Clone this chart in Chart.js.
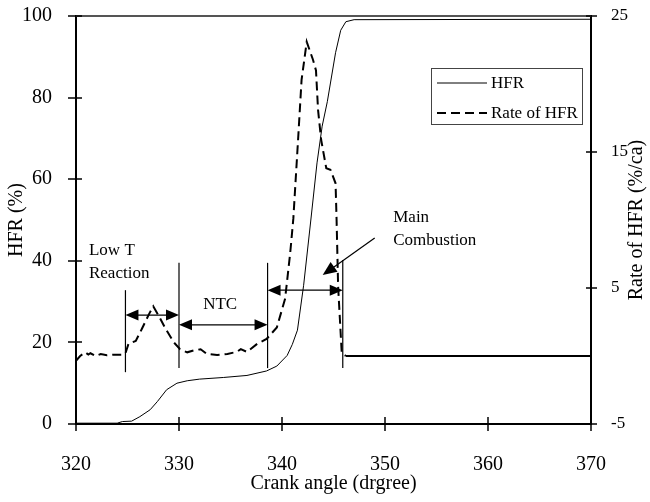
<!DOCTYPE html>
<html><head><meta charset="utf-8">
<script src="https://cdn.jsdelivr.net/npm/chart.js@4/dist/chart.umd.min.js"></script>
<style>html,body{margin:0;padding:0;background:#fff}#wrap{width:650px;height:502px}</style>
</head><body><div id="wrap"><canvas id="c" width="650" height="502"></canvas></div>
<script>
// ---- data ----
const hfrAngle = [320,324,324.5,325.4,326.2,327.2,327.9,328.8,329.8,330.8,332,334.3,336.6,338.5,339.5,340.5,341.0,341.5,342.1,342.8,343.4,343.9,344.4,345.2,345.7,346.2,347.0,370];
const hfrValue = [0.2,0.2,0.6,0.7,1.8,3.5,5.5,8.4,10.0,10.6,11.0,11.4,11.9,13.0,14.2,16.8,19.5,23,34,50,64,73,79,91,96.5,98.6,99.1,99.2];
const rateAngle = [320,320.4,320.9,321.2,321.4,321.9,322.4,323.0,323.7,324.4,324.8,325.1,325.8,326.4,327.1,327.5,328.0,328.7,329.5,330.1,330.8,331.4,332.1,332.7,333.7,334.7,335.6,336.0,336.6,337.6,338.5,339.5,340.3,340.8,341.1,341.6,341.9,342.4,343.0,343.3,343.5,343.8,344.3,344.7,345.2,345.3,345.45,345.8,346.2,370];
const rateValue = [-0.35,0,0.27,0.1,0.2,0,0.15,0.05,0.1,0.1,0.2,0.9,1.1,2.0,3.1,3.65,3.0,2.0,1.0,0.5,0.27,0.4,0.5,0.15,0.07,0.15,0.3,0.5,0.3,0.9,1.25,2.1,4.2,7.6,10.1,16.4,20.3,23.1,21.8,21.0,18.1,15.9,13.8,13.7,12.7,10.0,5.1,0.2,0,0];
const xTickValues = [320,330,340,350,360,370];
const leftTickValues = [0,20,40,60,80,100];
const rightTickValues = [-5,5,15,25];
const seriesLabels = ['HFR','Rate of HFR'];
const axisTitles = {x:'Crank angle (drgree)', y:'HFR (%)', y1:'Rate of HFR (%/ca)'};

// annotation content (in data units of x / left axis)
const markers = [[324.8,12.7,32.8],[330.0,13.7,39.5],[338.6,13.7,39.5],[345.9,13.7,40.2]];
const spans = [[324.8,330.0,26.7],[330.0,338.6,24.3],[338.6,345.9,32.8]];
const notes = [
  {t:'Low T', x:321.26, y:41.4, align:'left'},
  {t:'Reaction', x:321.26, y:35.8, align:'left'},
  {t:'NTC', x:334.0, y:28.2, align:'center'},
  {t:'Main', x:350.8, y:49.5, align:'left'},
  {t:'Combustion', x:350.8, y:43.9, align:'left'}
];
const pointer = [349.0,45.6,343.95,36.5];

const FONT = 'Liberation Serif';
const pts = (xs, ys) => xs.map((v,i)=>({x:v, y:ys[i]}));

function head(ctx, x1,y1,x2,y2, len, hw){
  const a = Math.atan2(y2-y1, x2-x1);
  ctx.beginPath();
  ctx.moveTo(x2,y2);
  ctx.lineTo(x2 - len*Math.cos(a) + hw*Math.sin(a), y2 - len*Math.sin(a) - hw*Math.cos(a));
  ctx.lineTo(x2 - len*Math.cos(a) - hw*Math.sin(a), y2 - len*Math.sin(a) + hw*Math.cos(a));
  ctx.closePath(); ctx.fill();
}

const deco = {
  id:'deco',
  afterDatasetsDraw(chart){
    const {ctx, chartArea:a, scales:{x,y,y1}} = chart;
    const L = (x0,y0,xa,ya)=>{ctx.beginPath();ctx.moveTo(x0,y0);ctx.lineTo(xa,ya);ctx.stroke();};
    ctx.save();
    // top frame
    ctx.strokeStyle='#555'; ctx.lineWidth=2;
    L(a.left, a.top, a.right, a.top);
    // tick marks (crossing)
    ctx.strokeStyle='#000'; ctx.lineWidth=1.5;
    x.ticks.forEach(t=>{const p=Math.round(x.getPixelForValue(t.value)); L(p,a.bottom-7,p,a.bottom+7);});
    y.ticks.forEach(t=>{const p=Math.round(y.getPixelForValue(t.value)); L(a.left-8,p,a.left+6,p);});
    y1.ticks.forEach(t=>{const p=Math.round(y1.getPixelForValue(t.value)); L(a.right-5,p,a.right+6,p);});
    // vertical markers
    ctx.lineWidth=1.2;
    markers.forEach(m=>{const px=x.getPixelForValue(m[0]); L(px,y.getPixelForValue(m[1]),px,y.getPixelForValue(m[2]));});
    // double arrows
    ctx.fillStyle='#000';
    spans.forEach(s=>{
      const xa=x.getPixelForValue(s[0]), xb=x.getPixelForValue(s[1]), py=y.getPixelForValue(s[2]);
      L(xa+4,py,xb-4,py);
      head(ctx,xb,py,xa,py,13,5.5);
      head(ctx,xa,py,xb,py,13,5.5);
    });
    // pointer arrow
    const p0x=x.getPixelForValue(pointer[0]), p0y=y.getPixelForValue(pointer[1]);
    const p1x=x.getPixelForValue(pointer[2]), p1y=y.getPixelForValue(pointer[3]);
    L(p0x,p0y,p1x+(p0x-p1x)*0.15,p1y+(p0y-p1y)*0.15);
    head(ctx,p0x,p0y,p1x,p1y,14,6);
    // notes
    ctx.font = '17px "'+FONT+'"'; ctx.textBaseline='alphabetic';
    notes.forEach(n=>{ctx.textAlign=n.align; ctx.fillText(n.t, x.getPixelForValue(n.x), y.getPixelForValue(n.y));});
    // legend
    const bx=a.right-160, by=a.top+52, bw=151, bh=56;
    ctx.fillStyle='#fff'; ctx.fillRect(bx,by,bw,bh);
    ctx.strokeStyle='#444'; ctx.lineWidth=1; ctx.strokeRect(bx+0.5,by+0.5,bw,bh);
    chart.data.datasets.forEach((d,i)=>{
      const ly = by + 15 + i*30;
      ctx.strokeStyle=d.borderColor; ctx.lineWidth=d.borderWidth; ctx.setLineDash(d.borderDash||[]);
      L(bx+6,ly,bx+56,ly);
      ctx.setLineDash([]);
      ctx.fillStyle='#000'; ctx.textAlign='left'; ctx.textBaseline='middle';
      ctx.fillText(d.label, bx+60, ly+1);
    });
    // right axis title, reading bottom-to-top
    ctx.save();
    ctx.translate(y1.right-13, (a.top+a.bottom)/2);
    ctx.rotate(-Math.PI/2);
    ctx.font='20px "'+FONT+'"'; ctx.textAlign='center'; ctx.textBaseline='middle'; ctx.fillStyle='#000';
    ctx.fillText(axisTitles.y1, 0, 0);
    ctx.restore();
    ctx.restore();
  }
};

const tickFont = {family:FONT, size:20};
new Chart(document.getElementById('c'), {
  type:'line',
  data:{datasets:[
    {label:seriesLabels[0], data:pts(hfrAngle,hfrValue), yAxisID:'y', borderColor:'#000', borderWidth:1, pointRadius:0, tension:0, fill:false},
    {label:seriesLabels[1], data:pts(rateAngle,rateValue), yAxisID:'y1', borderColor:'#000', borderWidth:2, borderDash:[9,5], pointRadius:0, tension:0, fill:false,
      segment:{borderDash: c => c.p0.parsed.x >= 346 ? [] : undefined}}
  ]},
  plugins:[deco],
  options:{
    responsive:false, animation:false, devicePixelRatio:1,
    layout:{padding:{top:16,left:0,right:0,bottom:0}},
    plugins:{legend:{display:false}, tooltip:{enabled:false}},
    scales:{
      x:{type:'linear', min:320, max:370,
        afterBuildTicks:s=>{s.ticks=xTickValues.map(v=>({value:v}));},
        afterFit:s=>{s.height=78; s.paddingLeft=0; s.paddingRight=0;},
        grid:{display:false}, border:{display:true,color:'#000',width:2},
        ticks:{font:tickFont, color:'#000', padding:21, maxRotation:0},
        title:{display:true, text:axisTitles.x, font:{family:FONT,size:20}, color:'#000', padding:{top:0,bottom:6}}},
      y:{type:'linear', position:'left', min:0, max:100,
        afterBuildTicks:s=>{s.ticks=leftTickValues.map(v=>({value:v}));},
        afterFit:s=>{s.width=76; s.paddingTop=0; s.paddingBottom=0;},
        grid:{display:false}, border:{display:true,color:'#000',width:2},
        ticks:{font:tickFont, color:'#000', padding:16},
        title:{display:true, text:axisTitles.y, font:{family:FONT,size:20}, color:'#000', padding:{top:5,bottom:0}}},
      y1:{type:'linear', position:'right', min:-5, max:25,
        afterBuildTicks:s=>{s.ticks=rightTickValues.map(v=>({value:v}));},
        afterFit:s=>{s.width=59; s.paddingTop=0; s.paddingBottom=0;},
        grid:{display:false}, border:{display:true,color:'#000',width:2},
        ticks:{font:{family:FONT,size:17}, color:'#000', padding:12},
        title:{display:false}}
    }
  }
});
</script></body></html>
